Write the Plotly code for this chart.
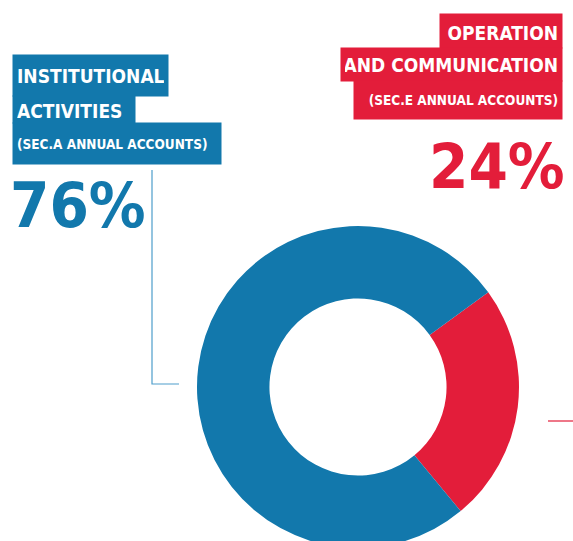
import plotly.graph_objects as go

labels = ["Operation and communication", "Institutional activities"]
shares = [24, 76]
colors = ["#E31D3A", "#1278AC"]

W, H = 573, 549
FONT = "DejaVu Sans Condensed, Liberation Sans Narrow, sans-serif"


def px(x):
    return x / W


def py(y):
    return 1 - y / H


fig = go.Figure(go.Pie(
    labels=labels,
    values=shares,
    marker=dict(colors=colors, line=dict(width=0)),
    hole=0.55,
    sort=False,
    direction="clockwise",
    rotation=54,
    textinfo="none",
    hoverinfo="label+percent",
    domain=dict(x=[px(197), px(519)], y=[py(548), py(226)]),
    showlegend=False,
))

# label blocks: text, box left, box right, box top, box bottom, font size, valign
blue_lines = [
    ("INSTITUTIONAL", 12, 167, 54, 95, 19, "middle"),
    ("ACTIVITIES", 12, 134, 95, 122, 19, "top"),
    ("(SEC.A ANNUAL ACCOUNTS)", 12, 220, 122, 163, 13.5, "middle"),
]
red_lines = [
    ("OPERATION", 441, 563, 13, 47, 19, "bottom"),
    ("AND COMMUNICATION", 342, 563, 47, 80, 19, "middle"),
    ("(SEC.E ANNUAL ACCOUNTS)", 355, 563, 80, 118, 13.5, "middle"),
]

pad = 4
for lines, col, side in [(blue_lines, colors[1], "left"), (red_lines, colors[0], "right")]:
    for text, x0, x1, y0, y1, size, va in lines:
        fig.add_annotation(
            x=px(x0) if side == "left" else px(x1),
            y=py(y0),
            xref="paper", yref="paper",
            xanchor=side, yanchor="top",
            text="<b>%s</b>" % text,
            showarrow=False,
            width=x1 - x0 - 2 * pad,
            height=y1 - y0 - 2 * pad,
            borderpad=pad,
            align=side,
            valign=va,
            bgcolor=col,
            font=dict(family=FONT, size=size, color="white"),
        )

# big percentages
fig.add_annotation(
    x=px(8), y=py(167), xref="paper", yref="paper",
    xanchor="left", yanchor="top",
    text="<b>%d%%</b>" % shares[1], showarrow=False,
    font=dict(family=FONT, size=63, color=colors[1]),
)
fig.add_annotation(
    x=px(567), y=py(128), xref="paper", yref="paper",
    xanchor="right", yanchor="top",
    text="<b>%d%%</b>" % shares[0], showarrow=False,
    font=dict(family=FONT, size=63, color=colors[0]),
)

# leader lines
fig.add_shape(type="path", xref="paper", yref="paper",
              path="M %f %f L %f %f L %f %f" % (px(152), py(170), px(152), py(384), px(179), py(384)),
              line=dict(color="#4E9DCB", width=1.2))
fig.add_shape(type="line", xref="paper", yref="paper",
              x0=px(548), x1=px(573), y0=py(421), y1=py(421),
              line=dict(color=colors[0], width=1.2))

fig.update_layout(
    width=W, height=H,
    margin=dict(l=0, r=0, t=0, b=0),
    paper_bgcolor="white",
    plot_bgcolor="white",
)

fig.write_html(
    "out.html",
    config={"displayModeBar": False},
    post_script="document.body.style.margin='0';document.body.style.overflow='hidden';",
)
